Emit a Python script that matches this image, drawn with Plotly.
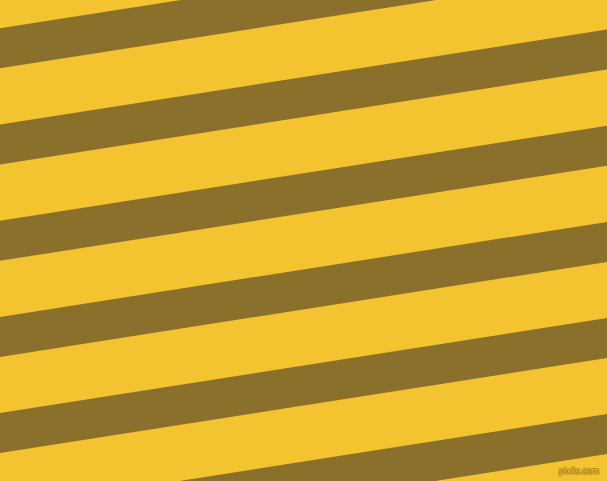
import plotly.graph_objects as go

# Stripe data (pixel-space units of the picture)
W, H = 607, 481
background_color = "#F4C430"
stripe_color = "#8B702B"
stripe_left_tops = [-67.8, 28.3, 124.6, 220.8, 316.9, 413.0, 509.1]
stripe_thickness = [40.0] * len(stripe_left_tops)
stripe_drop = 95.0  # how much each edge rises across the full width
watermark = "pixiis.com"

fig = go.Figure()
for top, th in zip(stripe_left_tops, stripe_thickness):
    xs = [0, W, W, 0, 0]
    ys = [top, top - stripe_drop, top - stripe_drop + th, top + th, top]
    fig.add_trace(go.Scatter(
        x=xs, y=ys, mode="lines", fill="toself",
        fillcolor=stripe_color, line=dict(width=0, color=stripe_color),
        hoverinfo="skip", showlegend=False,
    ))

fig.add_trace(go.Scatter(
    x=[579], y=[472], mode="text", text=[watermark],
    textfont=dict(family="DejaVu Sans", size=8, color="#F4C430",
                  shadow="1px 0 0 #9A7A20, -1px 0 0 #9A7A20, 0 1px 0 #9A7A20, 0 -1px 0 #9A7A20"),
    hoverinfo="skip", showlegend=False,
))

fig.update_layout(
    width=W, height=H,
    margin=dict(l=0, r=0, t=0, b=0),
    paper_bgcolor=background_color,
    plot_bgcolor=background_color,
    xaxis=dict(range=[0, W], visible=False, fixedrange=True),
    yaxis=dict(range=[H, 0], visible=False, fixedrange=True),
    showlegend=False,
)

fig.write_html(
    "out.html",
    config={"displayModeBar": False},
    post_script="document.body.style.margin='0';document.body.style.padding='0';"
                "document.body.style.overflow='hidden';",
)
